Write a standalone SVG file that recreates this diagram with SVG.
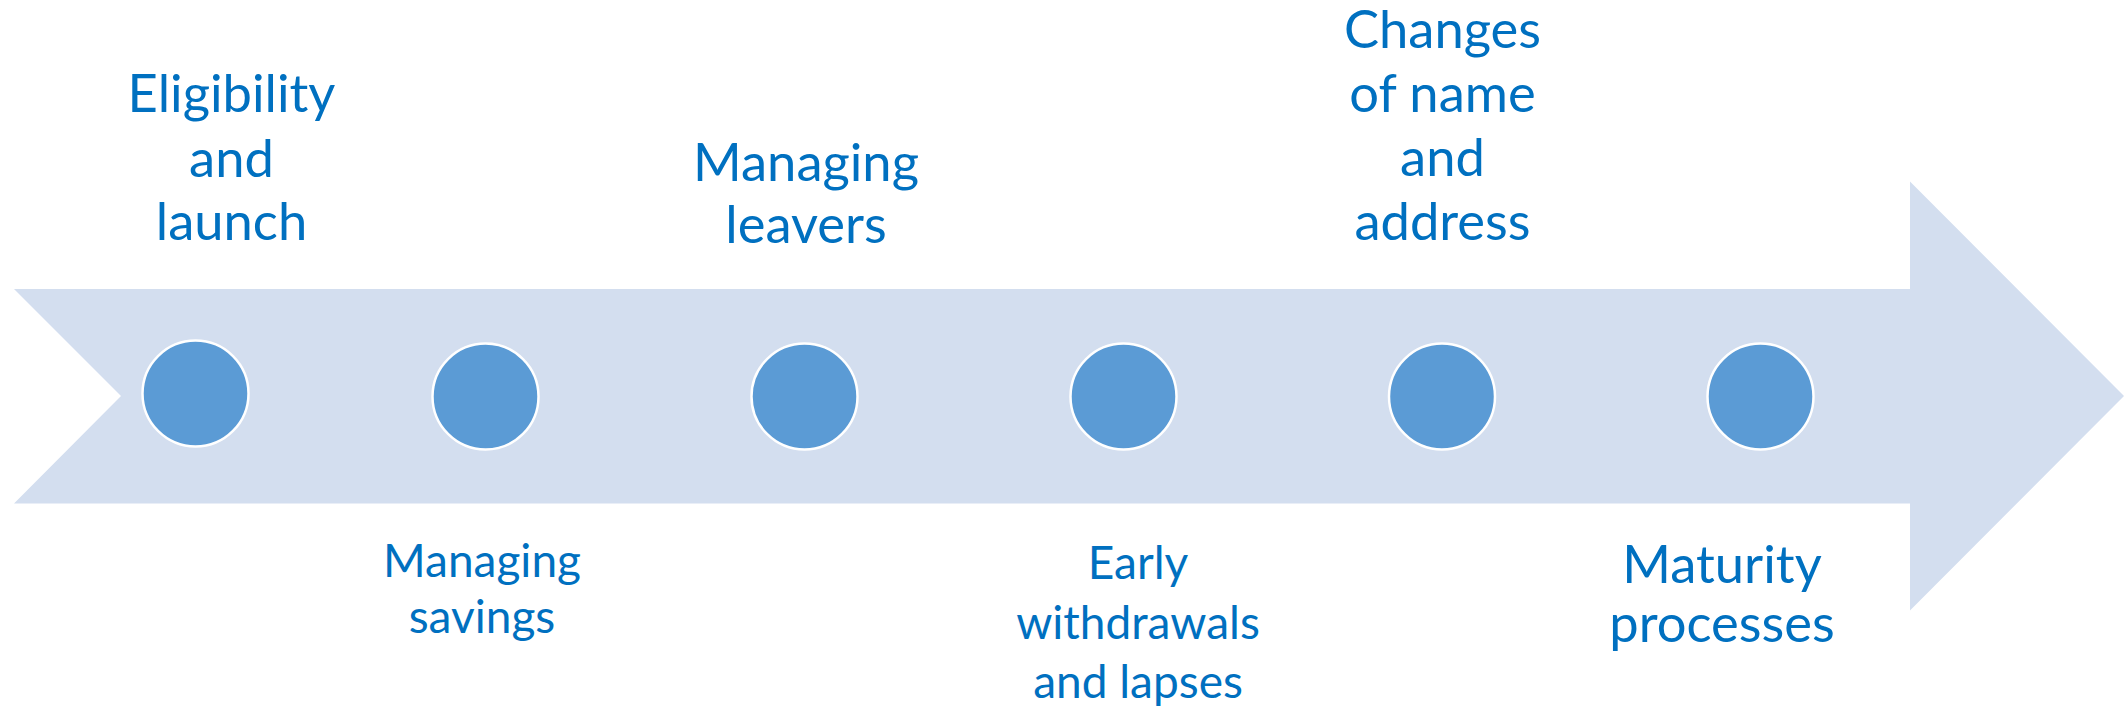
<svg xmlns="http://www.w3.org/2000/svg" width="2124" height="713" viewBox="0 0 2124 713">
  <style>
    .band { fill: #D3DEEF; }
    .dot { fill: #5B9BD5; stroke: #FFFFFF; stroke-width: 2.5; }
    .lbl { font-family: Lato, "Open Sans", "Liberation Sans", sans-serif; fill: #0070C0; text-anchor: middle; }
    .big { font-size: 52.5px; }
    .small { font-size: 46px; }
  </style>
  <rect width="2124" height="713" fill="#FFFFFF"/>

  <!-- chevron-tailed timeline arrow -->
  <g id="connectors">
    <polygon class="band" points="14,289 1910,289 1910,181.5 2124,396 1910,610.5 1910,503.5 14,503.5 121,396"/>
  </g>

  <g id="step1">
    <circle class="dot" cx="195.5" cy="393.5" r="53"/>
    <text class="lbl big" x="231.5"><tspan x="231.5" y="111.5">Eligibility</tspan><tspan x="231.5" y="176.5">and</tspan><tspan x="231.5" y="240">launch</tspan></text>
  </g>

  <g id="step2">
    <circle class="dot" cx="485.5" cy="396.5" r="53"/>
    <text class="lbl small" x="482"><tspan x="482" y="577">Managing</tspan><tspan x="482" y="633">savings</tspan></text>
  </g>

  <g id="step3">
    <circle class="dot" cx="804.5" cy="396.5" r="53"/>
    <text class="lbl big" x="806"><tspan x="806" y="181">Managing</tspan><tspan x="806" y="243">leavers</tspan></text>
  </g>

  <g id="step4">
    <circle class="dot" cx="1123.5" cy="396.5" r="53"/>
    <text class="lbl small" x="1138"><tspan x="1138" y="579">Early</tspan><tspan x="1138" y="639">withdrawals</tspan><tspan x="1138" y="698">and lapses</tspan></text>
  </g>

  <g id="step5">
    <circle class="dot" cx="1442" cy="396.5" r="53"/>
    <text class="lbl big" x="1442.5"><tspan x="1442.5" y="48">Changes</tspan><tspan x="1442.5" y="112">of name</tspan><tspan x="1442.5" y="176">and</tspan><tspan x="1442.5" y="240">address</tspan></text>
  </g>

  <g id="step6">
    <circle class="dot" cx="1760.5" cy="396.5" r="53"/>
    <text class="lbl big" x="1722"><tspan x="1722" y="583">Maturity</tspan><tspan x="1722" y="642">processes</tspan></text>
  </g>
</svg>
